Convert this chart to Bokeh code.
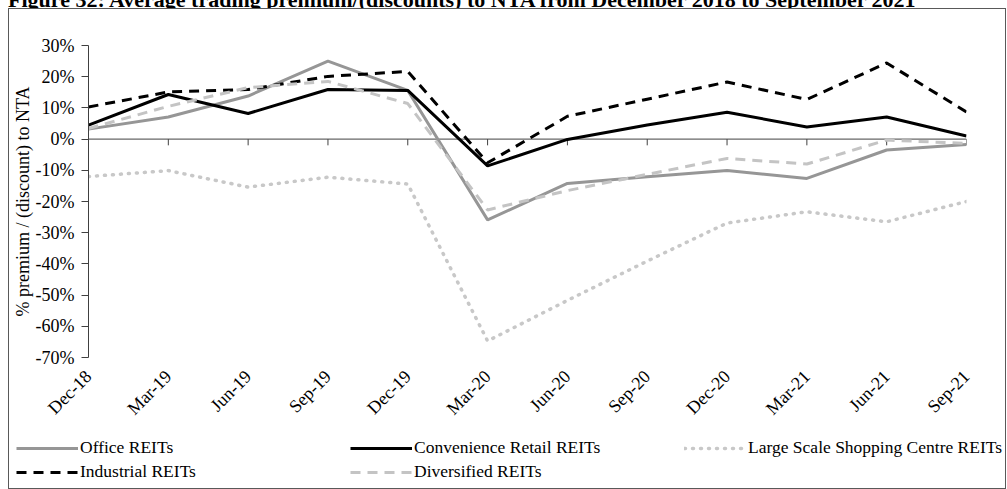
import math
from bokeh.plotting import figure
from bokeh.models import (Range1d, FixedTicker, PrintfTickFormatter, Span,
                          Legend, LegendItem, Div)
from bokeh.layouts import column
from bokeh.embed import file_html
from bokeh.resources import INLINE

quarters = ["Dec-18", "Mar-19", "Jun-19", "Sep-19", "Dec-19", "Mar-20",
            "Jun-20", "Sep-20", "Dec-20", "Mar-21", "Jun-21", "Sep-21"]
office = [3.2, 7.1, 13.8, 25.0, 15.6, -25.9, -14.2, -12.1, -10.1, -12.6, -3.5, -1.7]
convenience = [4.5, 14.3, 8.2, 15.9, 15.6, -8.6, -0.1, 4.5, 8.6, 3.9, 7.1, 1.0]
large_scale = [-12.0, -10.1, -15.4, -12.2, -14.4, -64.7, -51.7, -39.1, -26.9, -23.3, -26.5, -20.0]
industrial = [10.3, 15.1, 15.9, 20.1, 21.7, -7.6, 7.3, 12.8, 18.3, 12.7, 24.4, 8.7]
diversified = [3.4, 10.5, 16.5, 18.5, 11.4, -22.7, -16.5, -11.3, -6.2, -8.0, -0.3, -1.4]

series_names = ["Office REITs", "Convenience Retail REITs",
                "Large Scale Shopping Centre REITs", "Industrial REITs",
                "Diversified REITs"]
series_values = [office, convenience, large_scale, industrial, diversified]

y_ticks = [30, 20, 10, 0, -10, -20, -30, -40, -50, -60, -70]

FONT = "Liberation Serif"
STYLES = [
    dict(line_color="#969696", line_width=3),
    dict(line_color="black", line_width=3),
    dict(line_color="#c8c8c8", line_width=3.5, line_dash="1 7", line_cap="round"),
    dict(line_color="black", line_width=3, line_dash="10 7"),
    dict(line_color="#c4c4c4", line_width=3, line_dash="10 7"),
]
xs = list(range(len(quarters)))

# ---------------- main chart ----------------
p = figure(width=996, height=419,
           x_range=Range1d(0, len(quarters) - 1),
           y_range=Range1d(min(y_ticks), max(y_ticks)),
           output_backend="svg", toolbar_location=None,
           min_border_left=79, min_border_right=39,
           min_border_top=36, min_border_bottom=70)
p.outline_line_color = None
p.xgrid.visible = False
p.ygrid.visible = False
p.background_fill_color = "white"
p.border_fill_color = "white"

yax = p.yaxis[0]
yax.ticker = FixedTicker(ticks=y_ticks)
yax.formatter = PrintfTickFormatter(format="%d%%")
yax.axis_line_color = "#404040"
yax.major_tick_line_color = "#404040"
yax.major_tick_out = 7
yax.major_tick_in = 0
yax.minor_tick_line_color = None
yax.major_label_standoff = 7
yax.major_label_text_font = FONT
yax.major_label_text_font_size = "18px"
yax.major_label_text_color = "black"
yax.axis_label = "% premium / (discount) to NTA"
yax.axis_label_text_font = FONT
yax.axis_label_text_font_size = "18px"
yax.axis_label_text_font_style = "normal"
yax.axis_label_text_color = "black"
yax.axis_label_standoff = 0

xax = p.xaxis[0]
xax.ticker = FixedTicker(ticks=xs)
xax.major_label_overrides = {i: q for i, q in enumerate(quarters)}
xax.major_label_orientation = math.pi / 4
xax.axis_line_color = None
xax.major_tick_line_color = None
xax.minor_tick_line_color = None
xax.major_label_standoff = 10
xax.major_label_text_font = FONT
xax.major_label_text_font_size = "18px"
xax.major_label_text_color = "black"

# zero line with its tick marks
p.add_layout(Span(location=0, dimension="width", line_color="#404040",
                  line_width=1, level="underlay"))
p.segment(x0=xs, y0=[0] * len(xs), x1=xs, y1=[-2] * len(xs),
          line_color="#404040", line_width=1)

for vals, st in zip(series_values, STYLES):
    p.line(xs, vals, **st)

# ---------------- legend strip ----------------
lf = figure(width=996, height=60, output_backend="svg", toolbar_location=None,
            x_axis_location=None, y_axis_location=None,
            x_range=Range1d(0, 1), y_range=Range1d(1000, 1001),
            min_border=0, min_border_left=0, min_border_right=0,
            min_border_top=0, min_border_bottom=0)
for fig in (p, lf):
    if "frame_align" in fig.properties():
        fig.frame_align = False
lf.outline_line_color = None
lf.xgrid.visible = False
lf.ygrid.visible = False
lf.border_fill_color = "white"
lf.background_fill_color = "white"
items = []
for name, vals, st in zip(series_names, series_values, STYLES):
    # same series, outside this strip's visible range: only its key shows
    r = lf.line(xs, vals, **st)
    items.append(LegendItem(label=name, renderers=[r]))

legend = Legend(items=items, orientation="horizontal", ncols=3,
                location=(7, 6))
legend.glyph_width = 62
legend.glyph_height = 20
legend.label_standoff = 2
legend.label_width = 267
legend.label_height = 20
legend.spacing = 3
legend.padding = 0
legend.margin = 0
legend.border_line_color = None
legend.background_fill_alpha = 0
legend.label_text_font = FONT
legend.label_text_font_size = "17.5px"
legend.label_text_color = "black"
lf.add_layout(legend, "center")

title = Div(text="Figure 32: Average trading premium/(discounts) to NTA from December 2018 to September 2021",
            width=990, height=8, margin=(0, 0, 0, 8),
            styles={"font-family": FONT, "font-weight": "bold",
                    "font-size": "22px", "line-height": "0px",
                    "white-space": "nowrap", "color": "black",
                    "overflow": "visible"})

box = column(p, lf, spacing=0, margin=(0, 0, 0, 8),
             styles={"border": "1px solid #595959", "background": "white"})
layout = column(title, box, spacing=0)

with open("out.html", "w") as f:
    f.write(file_html(layout, INLINE))
